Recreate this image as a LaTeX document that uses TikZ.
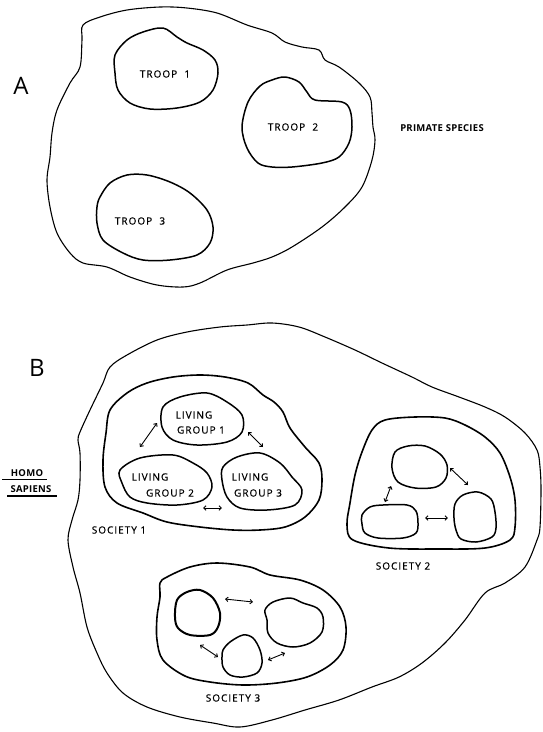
\documentclass[tikz,border=0pt]{standalone}
\usepackage{fontspec}
\setsansfont{Open Sans}
\newfontfamily\lblfont{Open Sans}[LetterSpace=10,FakeBold=0.6]
\newfontfamily\bldfont{Open Sans}[LetterSpace=3]
\newfontfamily\bigfont{Open Sans}
\usetikzlibrary{arrows.meta}
\tikzset{
  outerline/.style={line width=1.1pt, line join=round},
  socline/.style={line width=1.6pt, line join=round},
  grpline/.style={line width=1.5pt, line join=round},
  blob/.style={smooth cycle, tension=0.55},
  lbl/.style={font=\lblfont\fontsize{10}{11}\selectfont, inner sep=0pt},
  boldlbl/.style={font=\bldfont\bfseries\fontsize{9.5}{10}\selectfont, inner sep=0pt},
  biglbl/.style={font=\bigfont\fontsize{24}{25}\selectfont, inner sep=0pt},
  twoway/.style={{Straight Barb[length=2.4pt,width=4.4pt]}-{Straight Barb[length=2.4pt,width=4.4pt]}, line width=0.9pt},
  uline/.style={line width=1.1pt}
}
\begin{document}
\begin{tikzpicture}[x=1pt,y=-1pt]
\useasboundingbox (0,0) rectangle (543,732);
\fill[white] (0,0) rectangle (543,732);

% ---------------- A ----------------
\node[biglbl] (labA) at (21,86) {A};
\draw[outerline] plot[blob] coordinates {(83,25) (100,17) (127,10) (160,7) (187,8) (217,13) (247,25) (272,33) (285,42) (302,47) (319,50) (325,60) (339,67) (359,83) (370,97) (372,113) (373,127) (375,140) (372,160) (362,187) (345,207) (322,227) (292,247) (272,257) (253,263) (227,270) (200,283) (183,287) (157,285) (130,277) (107,267) (83,263) (70,253) (57,233) (50,207) (47,180) (50,157) (52,133) (57,110) (70,83) (80,67) (82,40)};
\draw[grpline] plot[blob] coordinates {(115,55) (127,40) (143,32) (163,28) (177,37) (187,43) (203,50) (215,60) (218,73) (213,90) (200,102) (177,108) (150,109) (130,103) (118,90) (115,73)};
\draw[grpline] plot[blob] coordinates {(272,80) (285,77) (299,82) (307,92) (315,100) (342,102) (350,110) (352,127) (349,143) (339,157) (322,163) (292,167) (272,167) (258,163) (247,148) (242,127) (248,102) (260,86)};
\draw[grpline] plot[blob] coordinates {(100,197) (110,183) (127,175) (147,175) (170,182) (190,193) (207,210) (213,227) (210,243) (197,255) (170,260) (143,260) (123,253) (103,240) (97,223) (97,207)};
\node[lbl] (t1) at (165,74) {TROOP\ \ 1};
\node[lbl] (t2) at (293,127) {TROOP\ \ 2};
\node[lbl] (t3) at (140,221) {TROOP\ \ 3};
\node[boldlbl] (prim) at (442,128) {PRIMATE SPECIES};

% ---------------- B ----------------
\node[biglbl] (labB) at (37,368) {B};
\node[boldlbl] (homo) at (27,473) {HOMO};
\node[boldlbl] (sap) at (31,489) {SAPIENS};
\coordinate (u1a) at (2,479.5); \coordinate (u1b) at (47,479.5);
\coordinate (u2a) at (7,496) ; \coordinate (u2b) at (57,496);
\draw[uline] (u1a) -- (u1b);
\draw[uline] (u2a) -- (u2b);

\draw[outerline] plot[blob] coordinates {(80,432) (90,410) (103,383) (110,367) (127,355) (157,340) (187,332) (220,327) (247,325) (272,323) (299,327) (325,337) (355,350) (382,363) (412,377) (432,387) (459,397) (485,407) (505,417) (525,433) (537,450) (540,467) (541,490) (540,527) (537,540) (525,567) (505,583) (485,593) (465,620) (445,643) (422,663) (399,677) (372,687) (339,700) (305,710) (272,720) (240,727) (213,723) (180,717) (147,707) (123,693) (107,673) (97,653) (87,627) (80,593) (73,567) (68,540) (72,520) (78,500) (80,480) (80,453) (78,440)};

% Society 1
\draw[socline] plot[blob] coordinates {(110,410) (127,393) (147,383) (173,377) (200,375) (225,377) (248,383) (263,395) (274,402) (283,412) (290,428) (305,447) (319,463) (322,480) (319,500) (305,517) (285,527) (260,530) (233,530) (200,527) (167,522) (143,513) (117,503) (105,487) (103,460) (106,433)};
\draw[grpline] plot[blob] coordinates {(163,407) (180,397) (207,393) (227,402) (242,415) (242,432) (227,442) (197,445) (173,440) (162,427)};
\draw[grpline] plot[blob] coordinates {(120,470) (140,458) (173,455) (193,463) (207,473) (212,487) (203,500) (177,505) (147,503) (130,497) (122,483)};
\draw[grpline] plot[blob] coordinates {(223,467) (237,457) (260,453) (280,463) (292,477) (302,490) (295,505) (267,510) (240,508) (227,497) (222,480)};
\node[lbl] (lg1a) at (194,415) {LIVING};
\node[lbl] (lg1b) at (201,430) {GROUP 1};
\node[lbl] (lg2a) at (150,477) {LIVING};
\node[lbl] (lg2b) at (170,493) {GROUP 2};
\node[lbl] (lg3a) at (250,477) {LIVING};
\node[lbl] (lg3b) at (258,493) {GROUP 3};
\node[lbl] (s1) at (119,530) {SOCIETY 1};
\coordinate (a1s) at (157,423); \coordinate (a1e) at (140,447);
\coordinate (a2s) at (248,432); \coordinate (a2e) at (263,447);
\coordinate (a3s) at (203,508); \coordinate (a3e) at (222,508);
\draw[twoway] (a1s) -- (a1e);
\draw[twoway] (a2s) -- (a2e);
\draw[twoway] (a3s) -- (a3e);

% Society 2
\draw[socline] plot[blob] coordinates {(350,503) (355,475) (362,452) (372,430) (385,420) (415,417) (445,418) (465,425) (485,437) (500,453) (510,477) (515,500) (515,527) (510,540) (485,548) (439,549) (389,548) (353,540) (347,525)};
\draw[grpline] plot[blob] coordinates {(395,452) (408,446) (425,446) (440,454) (447,465) (446,478) (436,487) (415,488) (398,482) (392,468)};
\draw[grpline] plot[blob] coordinates {(362,515) (370,507) (383,505) (407,505) (416,511) (418,523) (416,533) (403,538) (378,538) (365,533) (362,524)};
\draw[grpline] plot[blob] coordinates {(455,504) (463,495) (478,492) (491,499) (495,512) (496,528) (492,537) (476,542) (461,539) (456,530) (454,518)};
\node[lbl] (s2) at (403,566) {SOCIETY 2};
\coordinate (b1s) at (450,468); \coordinate (b1e) at (468,485);
\coordinate (b2s) at (391,486); \coordinate (b2e) at (385,502);
\coordinate (b3s) at (425,518); \coordinate (b3e) at (448,518);
\draw[twoway] (b1s) -- (b1e);
\draw[twoway] (b2s) -- (b2e);
\draw[twoway] (b3s) -- (b3e);

% Society 3
\draw[socline] plot[blob] coordinates {(160,583) (167,577) (190,567) (217,563) (250,567) (270,575) (300,580) (323,590) (340,607) (346,627) (343,650) (330,665) (307,677) (277,683) (243,685) (210,682) (185,676) (163,660) (157,640) (157,617) (160,597)};
\draw[line width=2pt] plot[blob] coordinates {(177,600) (187,592) (200,590) (213,598) (220,613) (218,627) (210,635) (190,635) (178,628) (175,617)};
\draw[grpline] plot[blob] coordinates {(265,610) (273,602) (290,598) (303,603) (317,608) (323,617) (322,632) (310,643) (293,647) (277,643) (268,633) (267,620)};
\draw[grpline] plot[blob] coordinates {(223,650) (230,642) (243,635) (253,638) (260,650) (262,663) (257,673) (243,677) (230,675) (223,667) (222,657)};
\node[lbl] (s3) at (233,698) {SOCIETY 3};
\coordinate (c1s) at (225,599); \coordinate (c1e) at (253,602);
\coordinate (c2s) at (200,645); \coordinate (c2e) at (218,657);
\coordinate (c3s) at (268,660); \coordinate (c3e) at (285,653);
\draw[twoway] (c1s) -- (c1e);
\draw[twoway] (c2s) -- (c2e);
\draw[twoway] (c3s) -- (c3e);
\end{tikzpicture}
\end{document}
